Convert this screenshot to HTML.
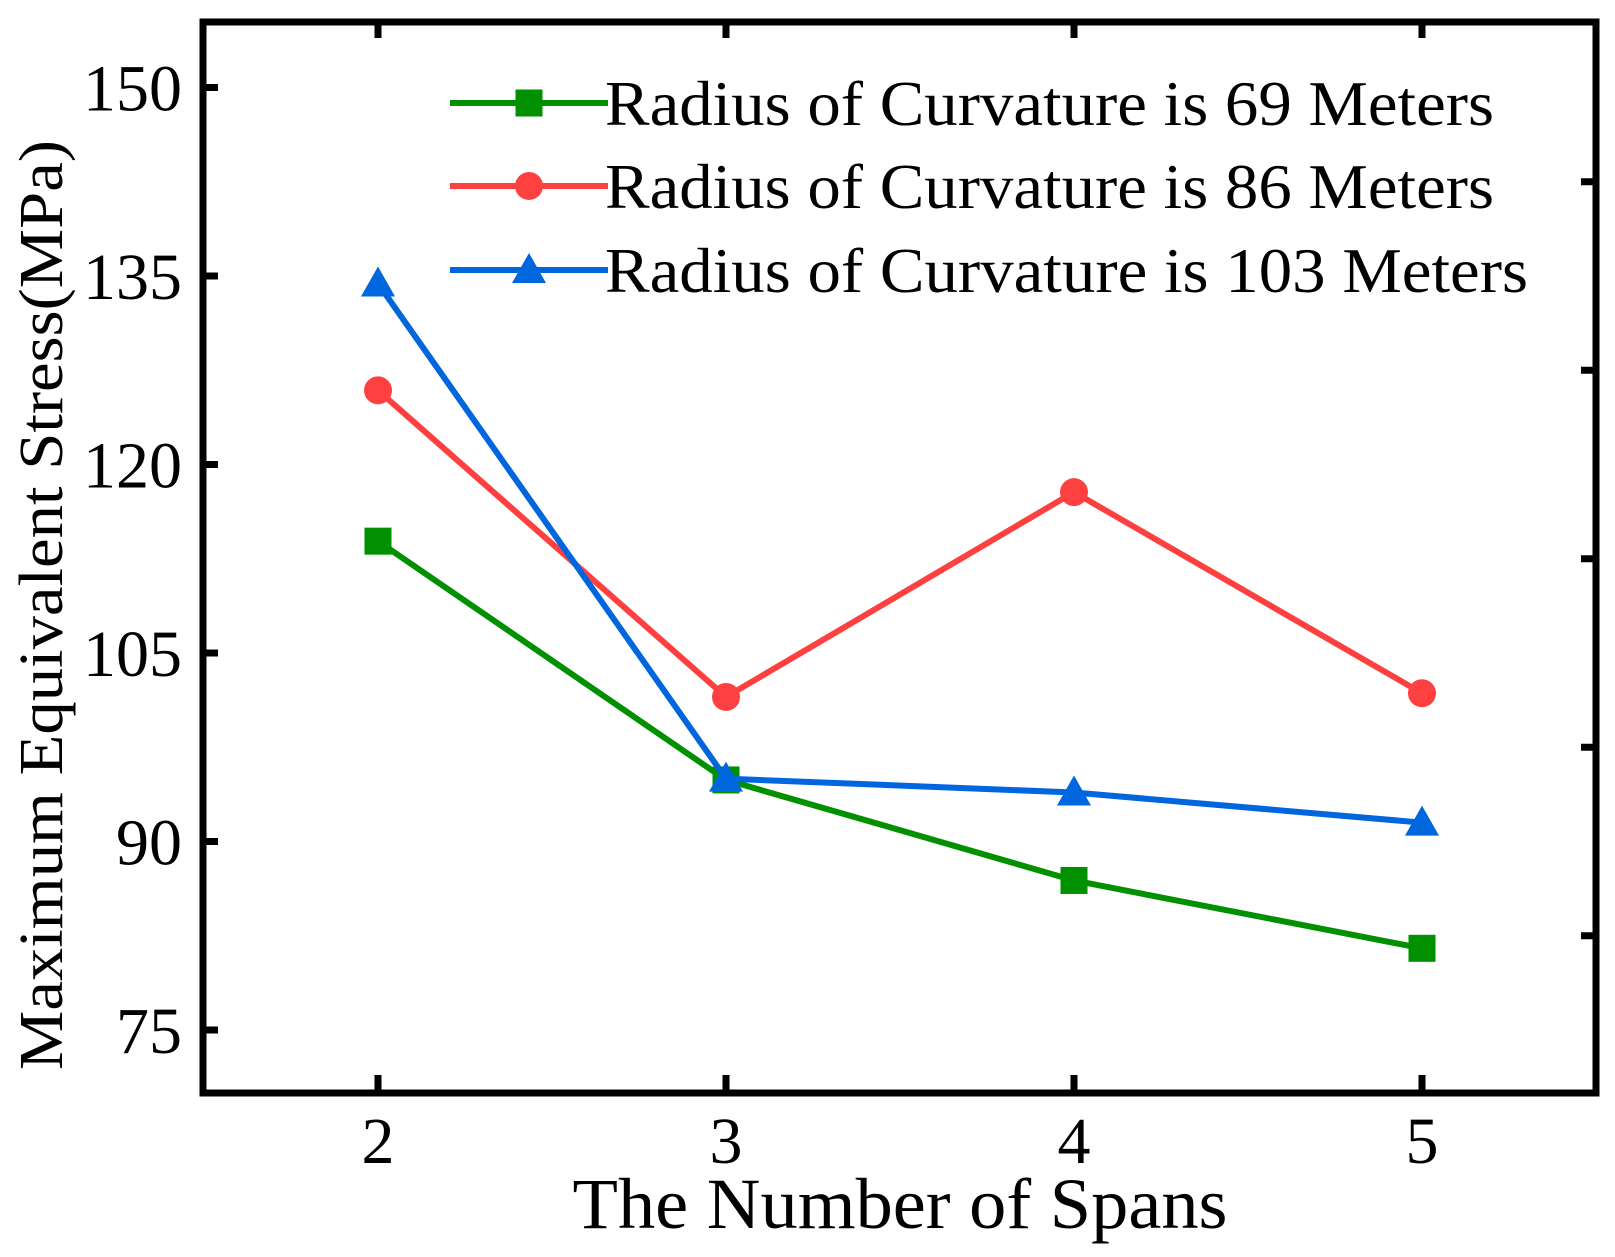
<!DOCTYPE html>
<html><head><meta charset="utf-8"><style>
html,body{margin:0;padding:0;background:#fff;}
svg{display:block;font-family:"Liberation Serif",serif;}
</style></head><body>
<svg id="chart" width="1615" height="1257" viewBox="0 0 1615 1257">
<g id="marks"></g>
<rect x="203" y="22" width="1393" height="1071" fill="none" stroke="#000" stroke-width="7"/>
<g id="axes"></g>
<text x="900" y="1228" font-size="72" text-anchor="middle" textLength="655" lengthAdjust="spacingAndGlyphs">The Number of Spans</text>
<text transform="translate(62,605) rotate(-90)" font-size="62" text-anchor="middle" textLength="930" lengthAdjust="spacingAndGlyphs">Maximum Equivalent Stress(MPa)</text>
<g id="legend"></g>
</svg>
<script>
const categories=[2,3,4,5];
const seriesNames=["Radius of Curvature is 69 Meters","Radius of Curvature is 86 Meters","Radius of Curvature is 103 Meters"];
const s69=[113.9,94.9,86.9,81.5];
const s86=[125.9,101.5,117.8,101.8];
const s103=[134.4,95.0,93.9,91.5];
const yTicks=[75,90,105,120,135,150];
const colors=["#009000","#ff4040","#0066dd"];
const shapes=["square","circle","triangle"];
const NS="http://www.w3.org/2000/svg";
function xs(v){return 378+(v-2)*348;}
function ys(v){return 1030-(v-75)*(188.5/15);}
function mk(tag,attrs,parent){const e=document.createElementNS(NS,tag);for(const k in attrs)e.setAttribute(k,attrs[k]);parent.appendChild(e);return e;}
function marker(shape,x,y,c,parent){
 let e;
 if(shape==="square")e=mk("rect",{x:x-13.5,y:y-13.5,width:27,height:27,fill:c},parent);
 else if(shape==="circle")e=mk("circle",{cx:x,cy:y,r:14,fill:c},parent);
 else e=mk("polygon",{points:`${x},${y-17} ${x-17},${y+13} ${x+17},${y+13}`,fill:c},parent);
 return e;
}
const axes=document.getElementById("axes"),marks=document.getElementById("marks"),legend=document.getElementById("legend");
yTicks.forEach(t=>{
 const l=mk("line",{x1:203,x2:218,y1:ys(t),y2:ys(t),stroke:"#000","stroke-width":7},axes);
 
 
 const tx=mk("text",{x:182,y:ys(t)+23,"font-size":66,"text-anchor":"end"},axes);tx.textContent=t;
 
 
 const r=mk("line",{x1:1581,x2:1596,y1:ys(t+7.5),y2:ys(t+7.5),stroke:"#000","stroke-width":7},axes);
 
 
});
categories.forEach(c=>{
 const l=mk("line",{x1:xs(c),x2:xs(c),y1:1093,y2:1075,stroke:"#000","stroke-width":7},axes);
 
 
 const t2=mk("line",{x1:xs(c),x2:xs(c),y1:22,y2:38,stroke:"#000","stroke-width":7},axes);
 
 
 const tx=mk("text",{x:xs(c),y:1163,"font-size":66,"text-anchor":"middle"},axes);tx.textContent=c;
 
 
});
const legendWidths=[889,889,923];
[s69,s86,s103].forEach((s,i)=>{
 const g=mk("g",{},marks);
 
 
 const pl=mk("polyline",{points:s.map((v,j)=>xs(categories[j])+","+ys(v)).join(" "),fill:"none",stroke:colors[i],"stroke-width":6},g);
 
 
 s.forEach((v,j)=>{const m=marker(shapes[i],xs(categories[j]),ys(v),colors[i],g);
  
  });
 const ly=[103,186,270][i];
 const ll=mk("line",{x1:450,x2:608,y1:ly,y2:ly,stroke:colors[i],"stroke-width":6},legend);
 
 
 const lm=marker(shapes[i],529,ly,colors[i],legend);
 
 
 const lt=mk("text",{x:605,y:[125,208,292][i],"font-size":64,textLength:legendWidths[i],lengthAdjust:"spacingAndGlyphs"},legend);lt.textContent=seriesNames[i];
 
 
});
</script>
</body></html>
